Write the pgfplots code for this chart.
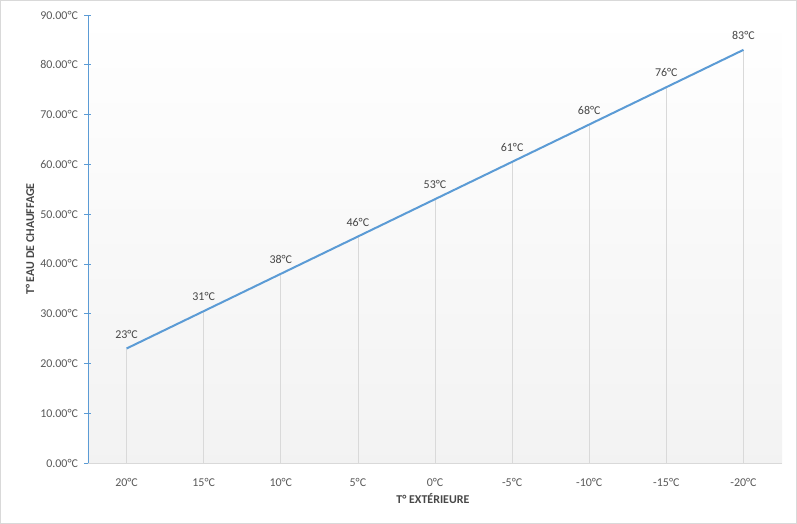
\documentclass[border=0pt]{standalone}
\usepackage{fontspec}
\setmainfont{Carlito}
\usepackage{pgfplots}
\pgfplotsset{compat=1.18}

\definecolor{serie}{HTML}{5B9BD5}
\definecolor{lbl}{HTML}{595959}
\definecolor{grille}{HTML}{D9D9D9}

\pgfplotstableread{
x y lab
0 23.0 23
1 30.5 31
2 38.0 38
3 45.5 46
4 53.0 53
5 60.5 61
6 68.0 68
7 75.5 76
8 83.0 83
}\donnees

\begin{document}
\begin{tikzpicture}
\begin{axis}[
  name=ax,
  scale only axis,
  width=694bp, height=448bp,
  xmin=-0.5, xmax=8.5,
  ymin=0, ymax=90,
  xtick={0,...,8},
  xticklabels={20°C,15°C,10°C,5°C,0°C,-5°C,-10°C,-15°C,-20°C},
  ytick={0,10,...,90},
  yticklabels={0.00°C,10.00°C,20.00°C,30.00°C,40.00°C,50.00°C,60.00°C,70.00°C,80.00°C,90.00°C},
  axis lines*=left,
  x axis line style={grille, line width=0.75bp, -},
  y axis line style={serie, line width=0.75bp, -},
  x tick style={draw=none},
  y tick style={serie, line width=0.75bp},
  tick align=center,
  major tick length=7bp,
  ticklabel style={font=\fontsize{12}{14}\selectfont, text=lbl},
  xticklabel style={yshift=-8bp},
  yticklabel style={xshift=-3bp},
  axis background/.style={shade, top color=white, bottom color=black!5},
  xlabel={T° EXTÉRIEURE},
  ylabel={T° EAU DE CHAUFFAGE},
  label style={font=\bfseries\fontsize{12}{14}\selectfont, text=lbl!80!black},
  xlabel style={at={(axis description cs:0.497,-0.0804)}, anchor=center},
  ylabel style={at={(axis description cs:-0.0836,0.5)}, anchor=center},
  clip=false,
]
\addplot[ycomb, grille, line width=0.75bp, no marks] table[x=x, y=y] {\donnees};
\addplot[serie, line width=2bp, no marks,
  nodes near coords={\pgfplotspointmeta°C},
  point meta=explicit symbolic,
  every node near coord/.append style={font=\fontsize{12}{14}\selectfont, text=lbl!80!black, anchor=south, yshift=6bp},
] table[x=x, y=y, meta=lab] {\donnees};
\end{axis}
\draw[grille, line width=1bp] ([shift={(-87.5bp,-60.5bp)}]ax.south west) rectangle ([shift={(708.5bp,462.5bp)}]ax.south west);
\end{tikzpicture}
\end{document}
